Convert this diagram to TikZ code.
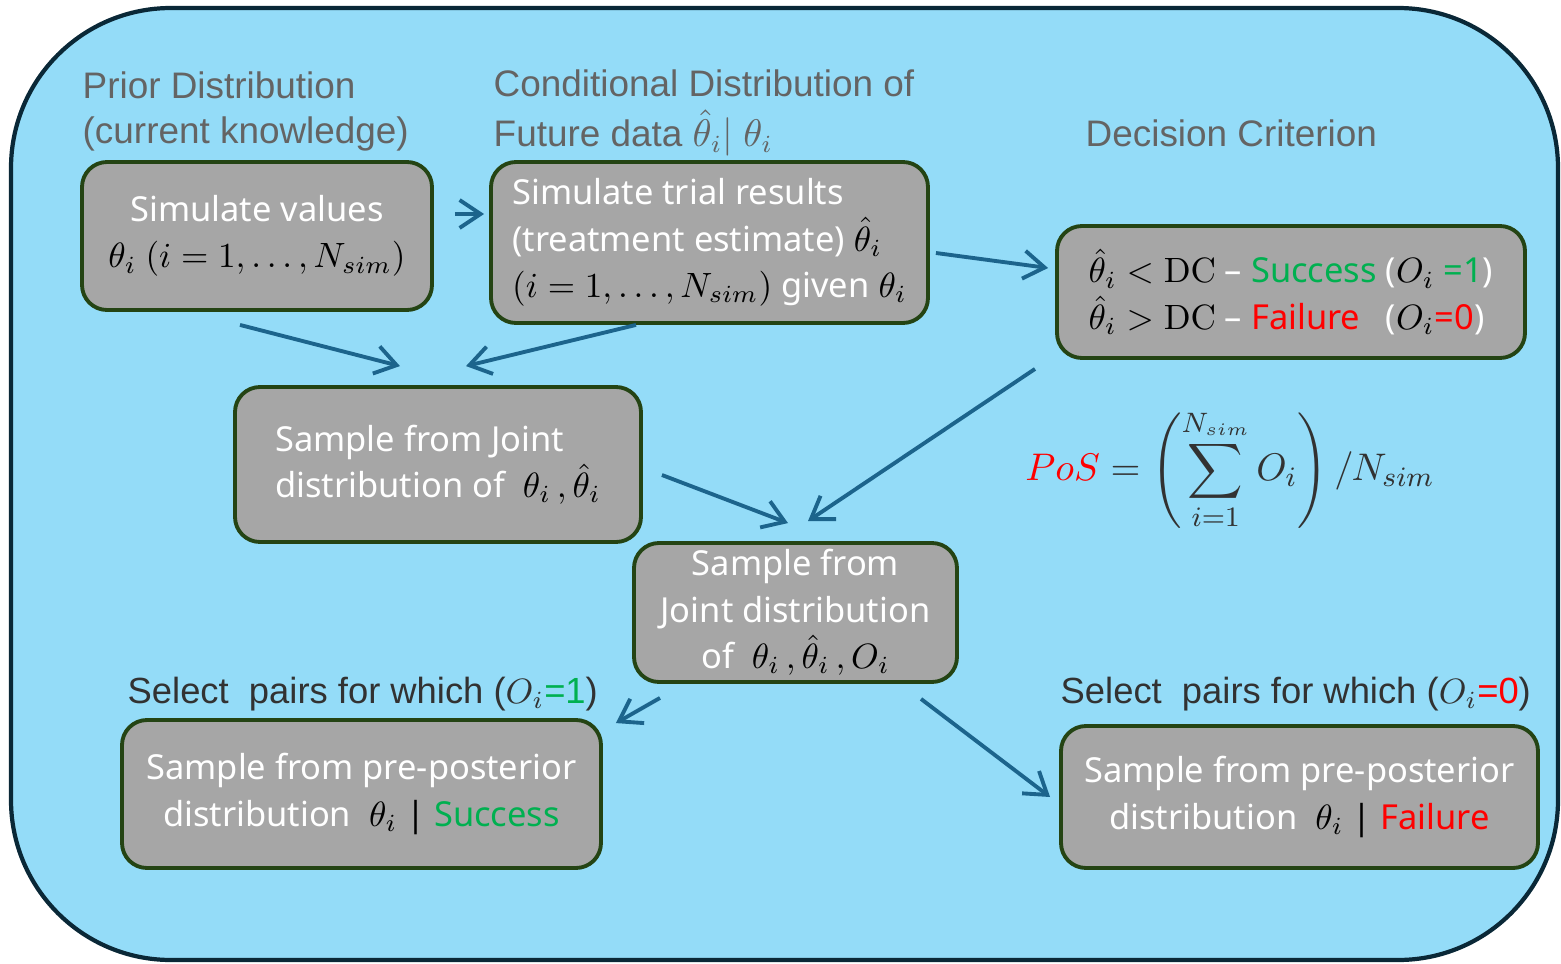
\documentclass[tikz,border=0pt]{standalone}
\usepackage{amsmath}
\usepackage[no-math]{fontspec}
\setmainfont{Liberation Sans}
\newfontfamily\boxfont{Noto Sans}
\usetikzlibrary{arrows.meta,positioning}
\definecolor{skyFill}{RGB}{148,220,248}
\definecolor{rimInk}{RGB}{10,40,55}
\definecolor{boxGrey}{RGB}{166,166,166}
\definecolor{boxRim}{RGB}{36,68,20}
\definecolor{headGrey}{RGB}{100,100,100}
\definecolor{selInk}{RGB}{50,50,50}
\definecolor{arrowBlue}{RGB}{28,100,140}
\definecolor{okGreen}{RGB}{0,176,80}
\definecolor{badRed}{RGB}{255,0,0}
\newcommand{\mth}[1]{\textcolor{black}{$#1$}}

\begin{document}
\begin{tikzpicture}[
      >={Straight Barb[length=2.1mm,width=2.8mm]},
      grybox/.style={rectangle,rounded corners=2.5mm,draw=boxRim,fill=boxGrey,
                  line width=1.1pt,text=white,inner sep=1pt,
                  font=\boxfont\fontsize{9.8}{13.2}\selectfont},
      hd/.style={anchor=west,align=left,text=headGrey,inner sep=0pt,
                  font=\fontsize{10.5}{12.7}\selectfont},
      sel/.style={hd,text=selInk,font=\fontsize{10.35}{12.7}\selectfont},
      ar/.style={->,draw=arrowBlue,line width=1.1pt}]

    \useasboundingbox (0,0) rectangle (15.61,9.63);
    \draw[rimInk,fill=skyFill,line width=1.2pt,rounded corners=1.6cm]
      (0.11,0.03) rectangle (15.58,9.55);

    % ---------- top row : prior, future data, decision ----------
    \node[hd] (prior) at (0.82,8.515) {Prior Distribution\\(current knowledge)};
    \node[hd] (cond)  at (4.93,8.50)  {Conditional Distribution of\\[0.6mm]Future data $\hat\theta_i|\ \theta_i$};
    \node[hd] (crit)  at (10.85,8.30) {Decision Criterion};

    \node[grybox,align=center,minimum width=3.50cm,minimum height=1.48cm] (sim) at (2.57,7.27)
      {Simulate values\\\mth{\theta_i\ (i=1,\ldots,N_{sim})}};
    \node[grybox,align=left,minimum width=4.37cm,minimum height=1.61cm] (trial) at (7.095,7.205)
      {Simulate trial results\\(treatment estimate) \mth{\hat\theta_i}\\
       \mth{(i=1,\ldots,N_{sim})} given \mth{\theta_i}};
    \node[grybox,align=left,minimum width=4.68cm,minimum height=1.32cm] (dc) at (12.91,6.71)
      {\mth{\hat\theta_i<\mathrm{DC}} \textendash\ \textcolor{okGreen}{Success} (\mth{O_i} \textcolor{okGreen}{=1})\\
       \mth{\hat\theta_i>\mathrm{DC}} \textendash\ \rlap{\textcolor{badRed}{Failure}}\phantom{Success} (\mth{O_i}\textcolor{badRed}{=0})};
    \draw[ar] ([shift={(0.21,0.22)}]sim.east) -- ([shift={(-0.05,0.285)}]trial.west);
    \draw[ar] ([shift={(0.06,-0.105)}]trial.east) -- ([shift={(-0.07,0.24)}]dc.west);

    % ---------- middle : joint distributions ----------
    \node[grybox,align=left,minimum width=4.06cm,minimum height=1.55cm] (joint) at (4.38,4.985)
      {Sample from Joint\\distribution of \ \mth{\theta_i\,,\hat\theta_i}};
    \node[grybox,align=center,minimum width=3.23cm,minimum height=1.39cm] (jointO) at (7.955,3.505)
      {Sample from\\Joint distribution\\of \ \mth{\theta_i\,,\hat\theta_i\,,O_i}};
    \node[text=selInk,font=\fontsize{11}{13}\selectfont] (pos) at (12.30,4.93)
      {$\displaystyle\textcolor{badRed}{PoS}=\left(\sum_{i=1}^{N_{sim}}O_i\right)/N_{sim}$};
    \draw[ar] ([shift={(-0.17,-0.13)}]sim.south) -- ([shift={(-0.38,0.19)}]joint.north);
    \draw[ar] ([shift={(-0.735,0)}]trial.south) -- ([shift={(0.28,0.19)}]joint.north);
    \draw[ar] ([shift={(0.19,-0.105)}]joint.east) -- ([shift={(-0.075,0.18)}]jointO.north);
    \draw[ar] ([shift={(-2.56,-0.09)}]dc.south) -- ([shift={(0.125,0.20)}]jointO.north);

    % ---------- bottom row : pre-posterior samples ----------
    \node[sel] (pick1) at (1.27,2.69) {Select\ \ pairs for which ($O_i$\textcolor{okGreen}{=1})};
    \node[sel] (pick0) at (10.60,2.69) {Select\ \ pairs for which ($O_i$\textcolor{badRed}{=0})};
    \node[grybox,align=center,minimum width=4.79cm,minimum height=1.48cm] (succ) at (3.615,1.69)
      {Sample from pre-posterior\\distribution \ \mth{\theta_i} \textcolor{black}{|} \textcolor{okGreen}{Success}};
    \node[grybox,align=center,minimum width=4.77cm,minimum height=1.42cm] (fail) at (12.995,1.66)
      {Sample from pre-posterior\\distribution \ \mth{\theta_i} \textcolor{black}{|} \textcolor{badRed}{Failure}};
    \draw[ar] ([shift={(-1.355,-0.14)}]jointO.south) -- ([shift={(0.13,-0.05)}]succ.north east);
    \draw[ar] ([shift={(1.255,-0.15)}]jointO.south) -- ([shift={(-0.09,0)}]fail.west);
  \end{tikzpicture}
\end{document}
